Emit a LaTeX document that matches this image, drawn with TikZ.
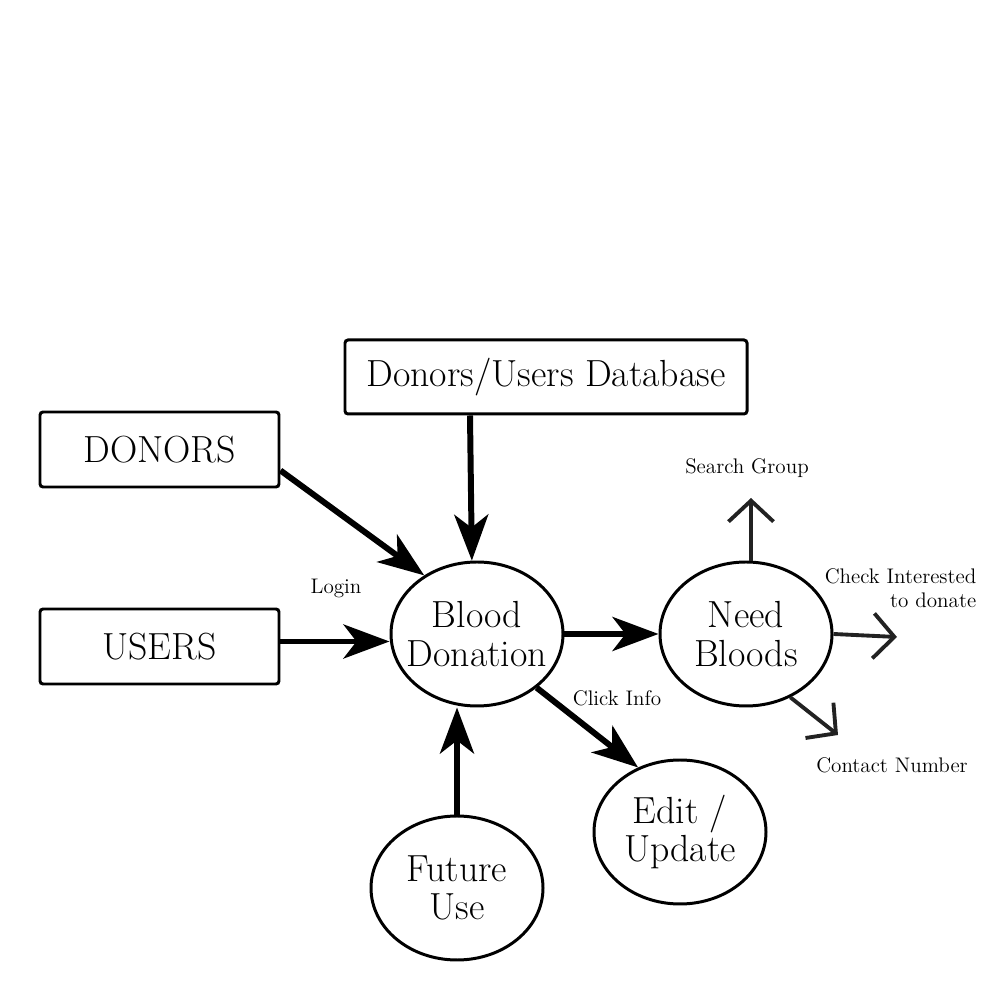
\documentclass[tikz,border=0pt]{standalone}
\usepackage{tikz}
\usetikzlibrary{arrows.meta,positioning,calc,shapes.geometric}
\definecolor{softblack}{HTML}{222222}

\begin{document}
\begin{tikzpicture}[
		box/.style={draw, line width=1.7pt, rounded corners=0.6mm, inner sep=0pt, font=\fontsize{21.5}{23}\selectfont},
		proc/.style={draw, ellipse, line width=1.7pt, inner xsep=-0.4cm, inner ysep=0pt, minimum width=3.44cm, minimum height=2.88cm, align=center, font=\fontsize{21.5}{22}\selectfont},
		flow/.style={line width=3.4pt, -{Stealth[length=0.92cm, width=0.68cm, inset=0.26cm]}},
		outflow/.style={line width=2.2pt, draw=softblack, -{Straight Barb[length=0.42cm, width=0.9cm, line width=2.2pt]}},
		tag/.style={font=\fontsize{12}{14}\selectfont}
	]
		\useasboundingbox (0,0) rectangle (20,20);
		% boxes
		\node[box, minimum width=8.04cm, minimum height=1.48cm] (db) at (10.92,12.46) {Donors/Users Database};
		\node[box, minimum width=4.78cm, minimum height=1.5cm] (donors) at (3.19,11.01) {DONORS};
		\node[box, minimum width=4.78cm, minimum height=1.5cm] (users) at (3.19,7.07) {USERS};
		% processes
		\node[proc] (blood) at (9.54,7.32) {Blood\\Donation};
		\node[proc] (need) at (14.92,7.32) {Need\\Bloods};
		\node[proc] (edit) at (13.6,3.36) {Edit /\\Update};
		\node[proc] (future) at (9.14,2.24) {Future\\Use};
		% free ends
		\coordinate (srch) at (15.02,10.04);
		\coordinate (chk) at (17.94,7.26);
		\coordinate (cnt) at (16.76,5.30);
		% flows
		\draw[flow] ([xshift=-1.52cm]db.south) -- (blood.94);
		\draw[flow] ([yshift=-0.42cm]donors.east) -- (blood.132);
		\draw[flow] ([yshift=0.1cm]users.east) -- ([yshift=0.1cm]users.east -| blood.west);
		\draw[flow] (future.north) -- (future.north |- blood.south);
		\draw[flow] (blood.east) -- (need.west);
		\draw[flow] (blood.-42) -- (edit.123);
		\draw[outflow] (need.north -| srch) -- (srch);
		\draw[outflow] (need.east) -- (chk);
		\draw[outflow] (need.-55) -- (cnt);
		% labels
		\node[tag] (login) at (6.72,8.24) {Login};
		\node[tag] (click) at (12.34,6.04) {Click Info};
		\node[tag] (search) at (14.94,10.64) {Search Group};
		\node[tag, align=right] (check) at (18.01,8.24) {Check Interested\\to donate};
		\node[tag] (contact) at (17.84,4.70) {Contact Number};
	\end{tikzpicture}
\end{document}
